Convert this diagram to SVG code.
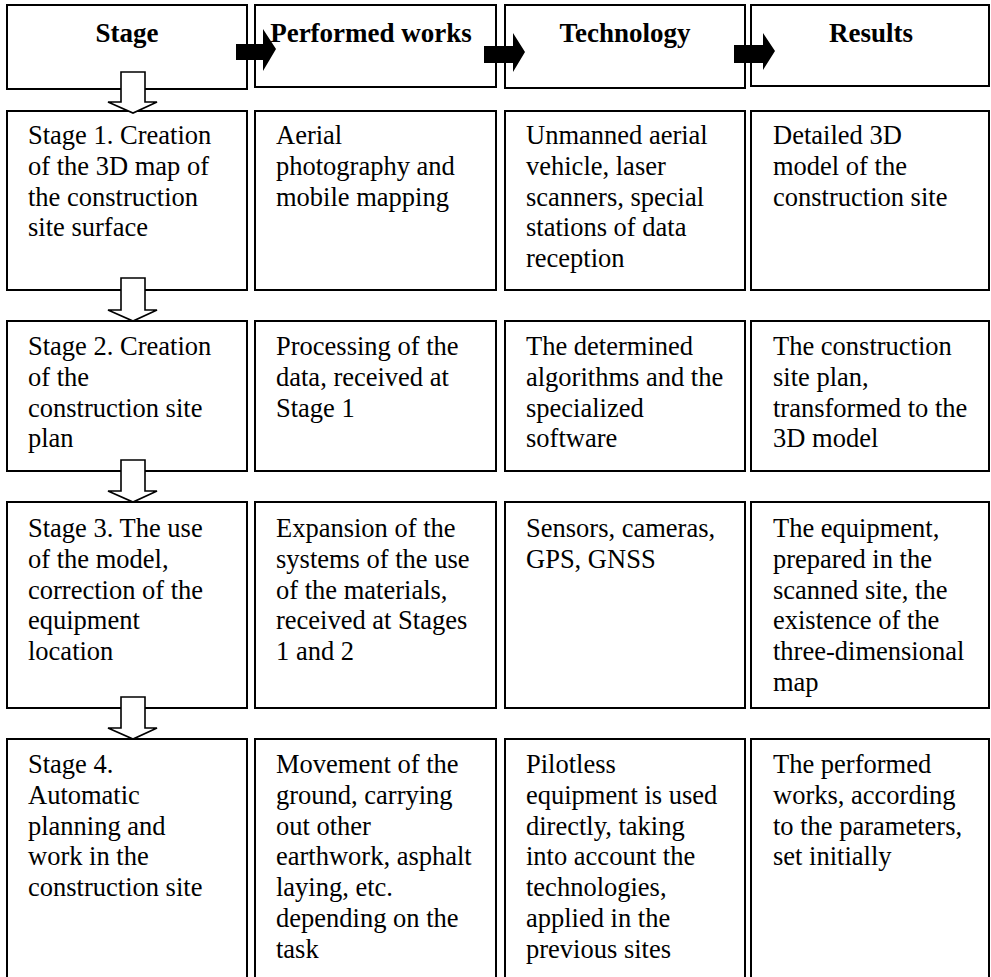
<svg xmlns="http://www.w3.org/2000/svg" width="991" height="977" viewBox="0 0 991 977" font-family="Liberation Serif, Times New Roman, serif">
<style>
.box{fill:#fff;stroke:#000;stroke-width:2}
.t{font-size:26.5px;fill:#000}
.h{font-size:27px;font-weight:bold;text-anchor:middle;fill:#000}
.fa{fill:#000;stroke:none}
.da{fill:#fff;stroke:#000;stroke-width:1.6;stroke-linejoin:miter}
</style>
<rect width="991" height="977" fill="#fff"/>
<g id="h1"><rect class="box" x="7" y="5" width="240" height="84"/><text class="h" x="127" y="42" font-family="Liberation Serif, serif">Stage</text></g>
<g id="h2"><rect class="box" x="255" y="5" width="241" height="82"/><text class="h" x="371" y="42" font-family="Liberation Serif, serif">Performed works</text></g>
<g id="h3"><rect class="box" x="505" y="5" width="240" height="83"/><text class="h" x="625" y="42" font-family="Liberation Serif, serif">Technology</text></g>
<g id="h4"><rect class="box" x="751" y="5" width="238" height="81"/><text class="h" x="871" y="42" font-family="Liberation Serif, serif">Results</text></g>

<g id="r1c1"><rect class="box" x="7" y="111" width="240" height="179"/><text class="t" font-family="Liberation Serif, serif"><tspan x="28" y="144">Stage 1. Creation</tspan><tspan x="28" y="174.8">of the 3D map of</tspan><tspan x="28" y="205.6">the construction</tspan><tspan x="28" y="236.4">site surface</tspan></text></g>
<g id="r1c2"><rect class="box" x="255" y="111" width="241" height="179"/><text class="t" font-family="Liberation Serif, serif"><tspan x="276" y="144">Aerial</tspan><tspan x="276" y="174.8">photography and</tspan><tspan x="276" y="205.6">mobile mapping</tspan></text></g>
<g id="r1c3"><rect class="box" x="505" y="111" width="240" height="179"/><text class="t" font-family="Liberation Serif, serif"><tspan x="526" y="144">Unmanned aerial</tspan><tspan x="526" y="174.8">vehicle, laser</tspan><tspan x="526" y="205.6">scanners, special</tspan><tspan x="526" y="236.4">stations of data</tspan><tspan x="526" y="267.2">reception</tspan></text></g>
<g id="r1c4"><rect class="box" x="751" y="111" width="238" height="179"/><text class="t" font-family="Liberation Serif, serif"><tspan x="773" y="144">Detailed 3D</tspan><tspan x="773" y="174.8">model of the</tspan><tspan x="773" y="205.6">construction site</tspan></text></g>

<g id="r2c1"><rect class="box" x="7" y="321" width="240" height="150"/><text class="t" font-family="Liberation Serif, serif"><tspan x="28" y="355">Stage 2. Creation</tspan><tspan x="28" y="385.8">of the</tspan><tspan x="28" y="416.6">construction site</tspan><tspan x="28" y="447.4">plan</tspan></text></g>
<g id="r2c2"><rect class="box" x="255" y="321" width="241" height="150"/><text class="t" font-family="Liberation Serif, serif"><tspan x="276" y="355">Processing of the</tspan><tspan x="276" y="385.8">data, received at</tspan><tspan x="276" y="416.6">Stage 1</tspan></text></g>
<g id="r2c3"><rect class="box" x="505" y="321" width="240" height="150"/><text class="t" font-family="Liberation Serif, serif"><tspan x="526" y="355">The determined</tspan><tspan x="526" y="385.8">algorithms and the</tspan><tspan x="526" y="416.6">specialized</tspan><tspan x="526" y="447.4">software</tspan></text></g>
<g id="r2c4"><rect class="box" x="751" y="321" width="238" height="150"/><text class="t" font-family="Liberation Serif, serif"><tspan x="773" y="355">The construction</tspan><tspan x="773" y="385.8">site plan,</tspan><tspan x="773" y="416.6">transformed to the</tspan><tspan x="773" y="447.4">3D model</tspan></text></g>

<g id="r3c1"><rect class="box" x="7" y="502" width="240" height="206"/><text class="t" font-family="Liberation Serif, serif"><tspan x="28" y="537">Stage 3. The use</tspan><tspan x="28" y="567.8">of the model,</tspan><tspan x="28" y="598.6">correction of the</tspan><tspan x="28" y="629.4">equipment</tspan><tspan x="28" y="660.2">location</tspan></text></g>
<g id="r3c2"><rect class="box" x="255" y="502" width="241" height="206"/><text class="t" font-family="Liberation Serif, serif"><tspan x="276" y="537">Expansion of the</tspan><tspan x="276" y="567.8">systems of the use</tspan><tspan x="276" y="598.6">of the materials,</tspan><tspan x="276" y="629.4">received at Stages</tspan><tspan x="276" y="660.2">1 and 2</tspan></text></g>
<g id="r3c3"><rect class="box" x="505" y="502" width="240" height="206"/><text class="t" font-family="Liberation Serif, serif"><tspan x="526" y="537">Sensors, cameras,</tspan><tspan x="526" y="567.8">GPS, GNSS</tspan></text></g>
<g id="r3c4"><rect class="box" x="751" y="502" width="238" height="206"/><text class="t" font-family="Liberation Serif, serif"><tspan x="773" y="537">The equipment,</tspan><tspan x="773" y="567.8">prepared in the</tspan><tspan x="773" y="598.6">scanned site, the</tspan><tspan x="773" y="629.4">existence of the</tspan><tspan x="773" y="660.2">three-dimensional</tspan><tspan x="773" y="691">map</tspan></text></g>

<g id="r4c1"><rect class="box" x="7" y="739" width="240" height="250"/><text class="t" font-family="Liberation Serif, serif"><tspan x="28" y="773">Stage 4.</tspan><tspan x="28" y="803.8">Automatic</tspan><tspan x="28" y="834.6">planning and</tspan><tspan x="28" y="865.4">work in the</tspan><tspan x="28" y="896.2">construction site</tspan></text></g>
<g id="r4c2"><rect class="box" x="255" y="739" width="241" height="250"/><text class="t" font-family="Liberation Serif, serif"><tspan x="276" y="773">Movement of the</tspan><tspan x="276" y="803.8">ground, carrying</tspan><tspan x="276" y="834.6">out other</tspan><tspan x="276" y="865.4">earthwork, asphalt</tspan><tspan x="276" y="896.2">laying, etc.</tspan><tspan x="276" y="927">depending on the</tspan><tspan x="276" y="957.8">task</tspan></text></g>
<g id="r4c3"><rect class="box" x="505" y="739" width="240" height="250"/><text class="t" font-family="Liberation Serif, serif"><tspan x="526" y="773">Pilotless</tspan><tspan x="526" y="803.8">equipment is used</tspan><tspan x="526" y="834.6">directly, taking</tspan><tspan x="526" y="865.4">into account the</tspan><tspan x="526" y="896.2">technologies,</tspan><tspan x="526" y="927">applied in the</tspan><tspan x="526" y="957.8">previous sites</tspan></text></g>
<g id="r4c4"><rect class="box" x="751" y="739" width="238" height="250"/><text class="t" font-family="Liberation Serif, serif"><tspan x="773" y="773">The performed</tspan><tspan x="773" y="803.8">works, according</tspan><tspan x="773" y="834.6">to the parameters,</tspan><tspan x="773" y="865.4">set initially</tspan></text></g>

<g id="connectors">
<polygon class="fa" points="236,44 263,44 263,29 276,49 263,71 263,60 236,60"/>
<polygon class="fa" points="484,46 513,46 513,33 525,52 513,72 513,63 484,63"/>
<polygon class="fa" points="734,45 763,45 763,33 775,51 763,70 763,63 734,63"/>
<polygon class="da" points="121,72 145,72 145,102 157,102 133,113 108,102 121,102"/>
<polygon class="da" points="121,278 145,278 145,310 157,310 133,321 108,310 121,310"/>
<polygon class="da" points="121,460 145,460 145,491 157,491 133,502 108,491 121,491"/>
<polygon class="da" points="121,697 145,697 145,728 157,728 133,739 108,728 121,728"/>
</g>
</svg>
